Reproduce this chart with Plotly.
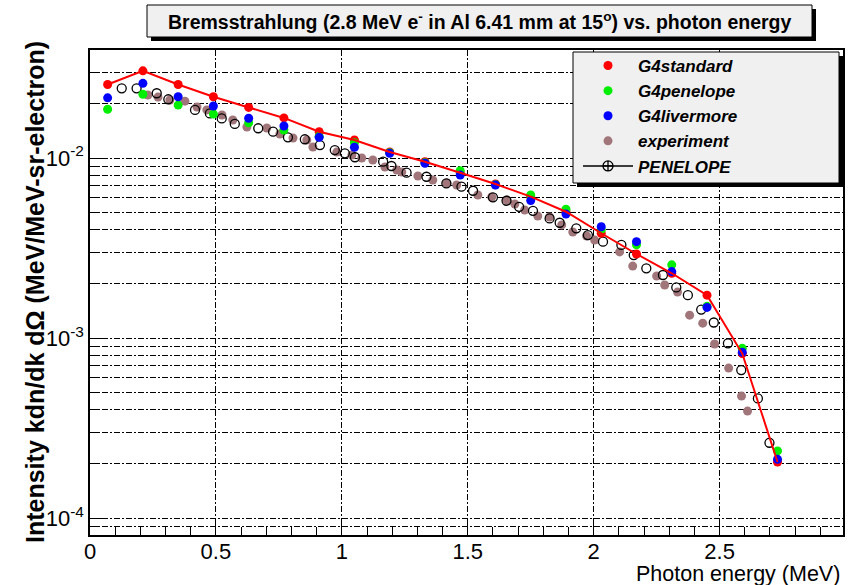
import plotly.graph_objects as go

# ---------------- data ----------------
g4_energy = [0.07, 0.21, 0.35, 0.49, 0.63, 0.77, 0.91, 1.05, 1.19, 1.33,
             1.47, 1.61, 1.75, 1.89, 2.03, 2.17, 2.31, 2.45, 2.59, 2.73]
g4standard = [0.0256, 0.0305, 0.0256, 0.0219, 0.0191, 0.0167, 0.0140, 0.0126, 0.0108, 0.00954,
              0.00829, 0.00717, 0.00610, 0.00503, 0.00382, 0.00293, 0.00229, 0.00173, 0.00082, 0.000205]
g4penelope = [0.01866, 0.0226, 0.01968, 0.01754, 0.0157, 0.0143, 0.0132, 0.01216, 0.0107, 0.0094,
              0.0085, 0.0071, 0.00623, 0.00519, 0.0040, 0.0033, 0.00255, 0.0015, 0.000877, 0.000236]
g4livermore = [0.0216, 0.0260, 0.0219, 0.01945, 0.01664, 0.01506, 0.01303, 0.01147, 0.01062, 0.00935,
               0.00804, 0.00708, 0.00580, 0.00488, 0.00415, 0.00343, 0.00234, 0.00148, 0.000834, 0.000212]

exp_energy = [0.230, 0.270, 0.317, 0.377, 0.425, 0.464, 0.524, 0.567, 0.623, 0.702,
              0.754, 0.806, 0.861, 0.885, 0.980, 1.040, 1.079, 1.123, 1.171, 1.218,
              1.238, 1.302, 1.361, 1.417, 1.456, 1.540, 1.595, 1.655, 1.687, 1.726,
              1.778, 1.825, 1.873, 1.917, 1.972, 2.004, 2.103, 2.155, 2.250, 2.282,
              2.333, 2.381, 2.433, 2.480, 2.536, 2.587, 2.611]
exp_intensity = [0.0224, 0.0218, 0.0210, 0.0207, 0.0192, 0.0185, 0.01734, 0.01626, 0.01486, 0.01468,
                 0.0136, 0.01292, 0.01259, 0.0115, 0.01079, 0.0104, 0.0100, 0.00975, 0.00891, 0.00858,
                 0.00836, 0.00794, 0.00755, 0.00727, 0.00708, 0.00623, 0.00607, 0.00584, 0.00555, 0.00514,
                 0.00476, 0.0047, 0.00425, 0.00388, 0.00369, 0.0035, 0.00301, 0.00251, 0.00221, 0.00197,
                 0.0018, 0.00134, 0.00121, 0.000927, 0.000681, 0.000476, 0.000393]

pen_energy = [0.126, 0.185, 0.265, 0.311, 0.417, 0.476, 0.523, 0.575, 0.668, 0.727,
              0.786, 0.853, 0.913, 0.972, 1.012, 1.052, 1.164, 1.197, 1.257, 1.336,
              1.415, 1.475, 1.521, 1.600, 1.654, 1.704, 1.759, 1.825, 1.865, 1.931,
              1.977, 2.037, 2.110, 2.159, 2.209, 2.275, 2.328, 2.374, 2.427, 2.477,
              2.533, 2.586, 2.652, 2.698]
pen_intensity = [0.0244, 0.0244, 0.0229, 0.0212, 0.0185, 0.0177, 0.0166, 0.01546, 0.01463, 0.0140,
                 0.01303, 0.01271, 0.0118, 0.01107, 0.01062, 0.0101, 0.00954, 0.00903, 0.00829, 0.00787,
                 0.00723, 0.00693, 0.00658, 0.00605, 0.00579, 0.00536, 0.00509, 0.00462, 0.00437, 0.00407,
                 0.00373, 0.00343, 0.00329, 0.00289, 0.00244, 0.00224, 0.00191, 0.00173, 0.00144, 0.00122,
                 0.000935, 0.000664, 0.000462, 0.000262]

y_tick_vals = [1e-4, 1e-3, 1e-2]
y_tick_text = ["10<sup>-4</sup>", "10<sup>-3</sup>", "10<sup>-2</sup>"]
x_tick_vals = [0, 0.5, 1, 1.5, 2, 2.5]
x_tick_text = ["0", "0.5", "1", "1.5", "2", "2.5"]

# ---------------- figure ----------------
W, H = 850, 585
L, R, T, B = 90, 7, 50, 50
PW, PH = W - L - R, H - T - B


def px_x(p):
    return (p - L) / PW


def px_y(p):
    return (H - B - p) / PH


FONT = "Liberation Sans"
MAUVE = "rgb(160,118,122)"
GRID_DASH = "6px,2px,2px,2px"

fig = go.Figure()

fig.add_trace(go.Scatter(x=exp_energy, y=exp_intensity, mode="markers", name="experiment",
                         marker=dict(color=MAUVE, size=9), legendrank=4))
fig.add_trace(go.Scatter(x=pen_energy, y=pen_intensity, mode="markers", name="PENELOPE",
                         marker=dict(symbol="circle-open", color="black", size=9, line=dict(width=1.3)),
                         showlegend=False))
fig.add_trace(go.Scatter(x=[None], y=[None], mode="lines+markers", name="PENELOPE",
                         line=dict(color="black", width=1.5),
                         marker=dict(symbol="circle-cross-open", color="black", size=10, line=dict(width=1.3)),
                         legendrank=5))
fig.add_trace(go.Scatter(x=g4_energy, y=g4standard, mode="markers", name="G4standard",
                         marker=dict(color="red", size=9), legendrank=1))
fig.add_trace(go.Scatter(x=g4_energy, y=g4penelope, mode="markers", name="G4penelope",
                         marker=dict(color="#00ee00", size=9), legendrank=2))
fig.add_trace(go.Scatter(x=g4_energy, y=g4livermore, mode="markers", name="G4livermore",
                         marker=dict(color="blue", size=9), legendrank=3))
fig.add_trace(go.Scatter(x=g4_energy, y=g4standard, mode="lines", name="G4standard line",
                         line=dict(color="red", width=2), showlegend=False))

minor_y = [m * 10.0 ** e for e in (-5, -4, -3, -2) for m in range(2, 10)]

fig.update_layout(
    width=W, height=H,
    margin=dict(l=L, r=R, t=T, b=B, autoexpand=False),
    plot_bgcolor="white", paper_bgcolor="white",
    font=dict(family=FONT, color="black"),
    showlegend=True,
    legend=dict(x=px_x(578), y=px_y(48), xanchor="left", yanchor="top",
                bgcolor="rgba(0,0,0,0)", borderwidth=0,
                font=dict(family=FONT, size=17, color="black", weight="bold", style="italic"),
                itemwidth=50, tracegroupgap=0),
    xaxis=dict(range=[0, 2.99], showline=True, linecolor="black", linewidth=1.5, mirror=True,
               automargin=False,
               tickvals=x_tick_vals, ticktext=x_tick_text, ticks="inside", ticklen=14,
               tickcolor="black", tickfont=dict(size=22, family=FONT), ticklabelstandoff=-4,
               showgrid=True, gridcolor="black", gridwidth=1, griddash=GRID_DASH,
               zeroline=False,
               minor=dict(dtick=0.1, ticks="inside", ticklen=8, tickcolor="black", showgrid=False)),
    yaxis=dict(type="log", range=[-4.094, -1.4], showline=True, linecolor="black", linewidth=1.5,
               mirror=True, automargin=False,
               tickvals=y_tick_vals, ticktext=y_tick_text, ticks="inside", ticklen=15,
               tickcolor="black", tickfont=dict(size=22, family=FONT),
               showgrid=True, gridcolor="black", gridwidth=1, griddash=GRID_DASH,
               zeroline=False,
               minor=dict(tickvals=minor_y, ticks="inside", ticklen=8, tickcolor="black",
                          showgrid=True, gridcolor="black", gridwidth=1, griddash=GRID_DASH)),
)

# y axis title
fig.add_annotation(xref="paper", yref="paper", x=px_x(35), y=px_y(292),
                   text="<b>Intensity kdn/dk dΩ (MeV/MeV-sr-electron)</b>", textangle=-90,
                   showarrow=False, font=dict(size=25, family=FONT, color="black"),
                   xanchor="center", yanchor="middle")

# title box with shadow
fig.add_shape(type="rect", xref="paper", yref="paper",
              x0=px_x(151), x1=px_x(816), y0=px_y(41), y1=px_y(9),
              fillcolor="black", line=dict(width=0), layer="above")
fig.add_shape(type="rect", xref="paper", yref="paper",
              x0=px_x(147), x1=px_x(812), y0=px_y(37), y1=px_y(5),
              fillcolor="#f0f0f0", line=dict(color="black", width=1), layer="above")
fig.add_annotation(xref="paper", yref="paper", x=px_x(479.5), y=px_y(21),
                   text="<b>Bremsstrahlung (2.8 MeV e<sup>-</sup> in Al 6.41 mm at 15<sup>o</sup>) vs. photon energy</b>",
                   showarrow=False, font=dict(size=19.5, family=FONT, color="black"),
                   xanchor="center", yanchor="middle")

# legend box with shadow
fig.add_shape(type="rect", xref="paper", yref="paper",
              x0=px_x(577), x1=px_x(843), y0=px_y(187), y1=px_y(56),
              fillcolor="black", line=dict(width=0), layer="above")
fig.add_shape(type="rect", xref="paper", yref="paper",
              x0=px_x(573), x1=px_x(839), y0=px_y(183), y1=px_y(52),
              fillcolor="#f0f0f0", line=dict(color="black", width=1), layer="above")

# x axis title at the right
fig.add_annotation(xref="paper", yref="paper", x=px_x(842), y=px_y(574),
                   text="Photon energy (MeV)", showarrow=False,
                   font=dict(size=21.5, family=FONT, color="black"),
                   xanchor="right", yanchor="middle")

fig.write_html("out.html", config={"displayModeBar": False},
               post_script="document.body.style.margin='0';")
